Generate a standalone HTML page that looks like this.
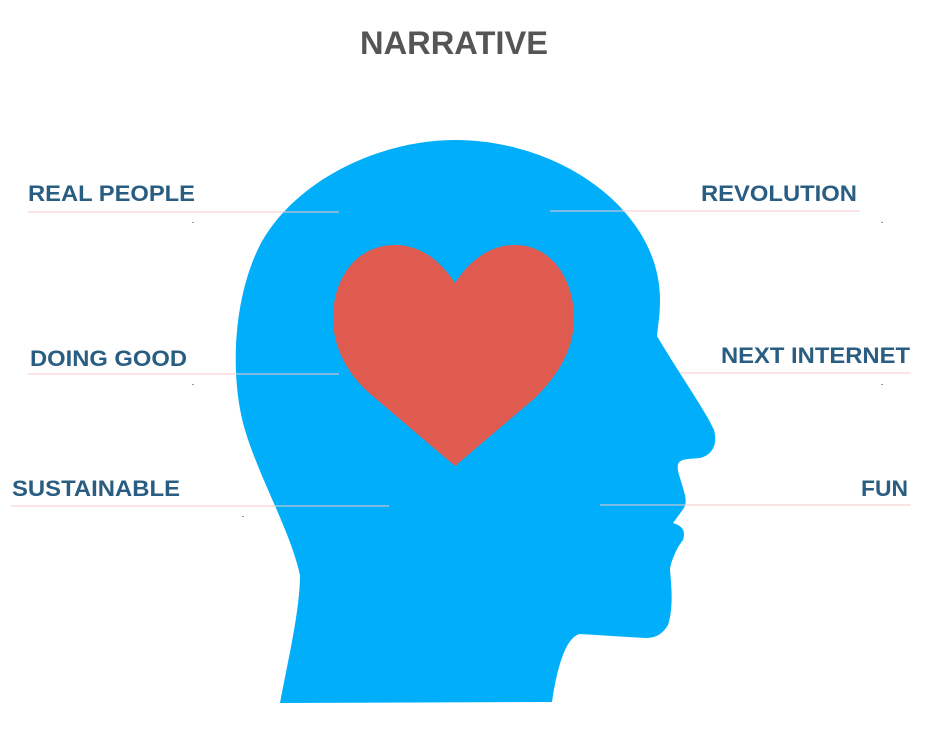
<!DOCTYPE html>
<html><head><style>
html,body{margin:0;padding:0;background:#fff;width:946px;height:752px;overflow:hidden}
svg{display:block}
text{font-family:"Liberation Sans",Arial,sans-serif;font-weight:bold}
</style></head><body>
<svg width="946" height="752" viewBox="0 0 946 752" xmlns="http://www.w3.org/2000/svg">
<text x="360" y="54" font-size="32" fill="#555" textLength="188" lengthAdjust="spacingAndGlyphs">NARRATIVE</text>
<path fill="#00aefa" d="M280,703 C288,660 300,610 300,575 C290,530 260,480 245,430 C230,380 232,300 260,245 C295,180 380,140 455,140 C560,140 660,210 660,300 C660,315 658,325 657,336 C680,375 705,410 714,430 C718,445 712,455 700,458 L688,459 C676,460 676,466 680,478 C684,492 688,500 684,508 L673,523 C682,526 686,530 683,540 C675,550 670,565 670,570 C672,590 673,610 668,625 C662,635 655,638 645,638 L580,634 C568,636 558,660 552,702 Z"/>
<path fill="#e05b4f" d="M455,283 C440,260 420,245 395,245 C355,245 333,280 333,318 C333,350 350,378 375,398 L455,466 L535,398 C558,375 574,350 574,318 C574,280 552,245 515,245 C490,245 470,260 455,283 Z"/>
<g stroke="#f7c9cf" stroke-width="1.2" opacity="0.8">
<line x1="28" y1="212" x2="339" y2="212"/>
<line x1="28" y1="374" x2="339" y2="374"/>
<line x1="11" y1="506" x2="389" y2="506"/>
<line x1="550" y1="211" x2="860" y2="211"/>
<line x1="680" y1="373" x2="911" y2="373"/>
<line x1="600" y1="505" x2="911" y2="505"/>
</g>
<g fill="#2a5d82" font-size="22" lengthAdjust="spacingAndGlyphs">
<text x="28" y="201" textLength="167" lengthAdjust="spacingAndGlyphs">REAL PEOPLE</text>
<text x="30" y="366" textLength="157" lengthAdjust="spacingAndGlyphs">DOING GOOD</text>
<text x="12" y="496" textLength="168" lengthAdjust="spacingAndGlyphs">SUSTAINABLE</text>
<text x="701" y="201" textLength="156" lengthAdjust="spacingAndGlyphs">REVOLUTION</text>
<text x="721" y="363" textLength="189" lengthAdjust="spacingAndGlyphs">NEXT INTERNET</text>
<text x="861" y="496" textLength="47" lengthAdjust="spacingAndGlyphs">FUN</text>
</g>
<g fill="#999"><rect x="192" y="222" width="2" height="1"/><rect x="192" y="384" width="2" height="1"/><rect x="242" y="516" width="2" height="1"/><rect x="881" y="222" width="2" height="1"/><rect x="881" y="384" width="2" height="1"/></g>
</svg>
</body></html>
